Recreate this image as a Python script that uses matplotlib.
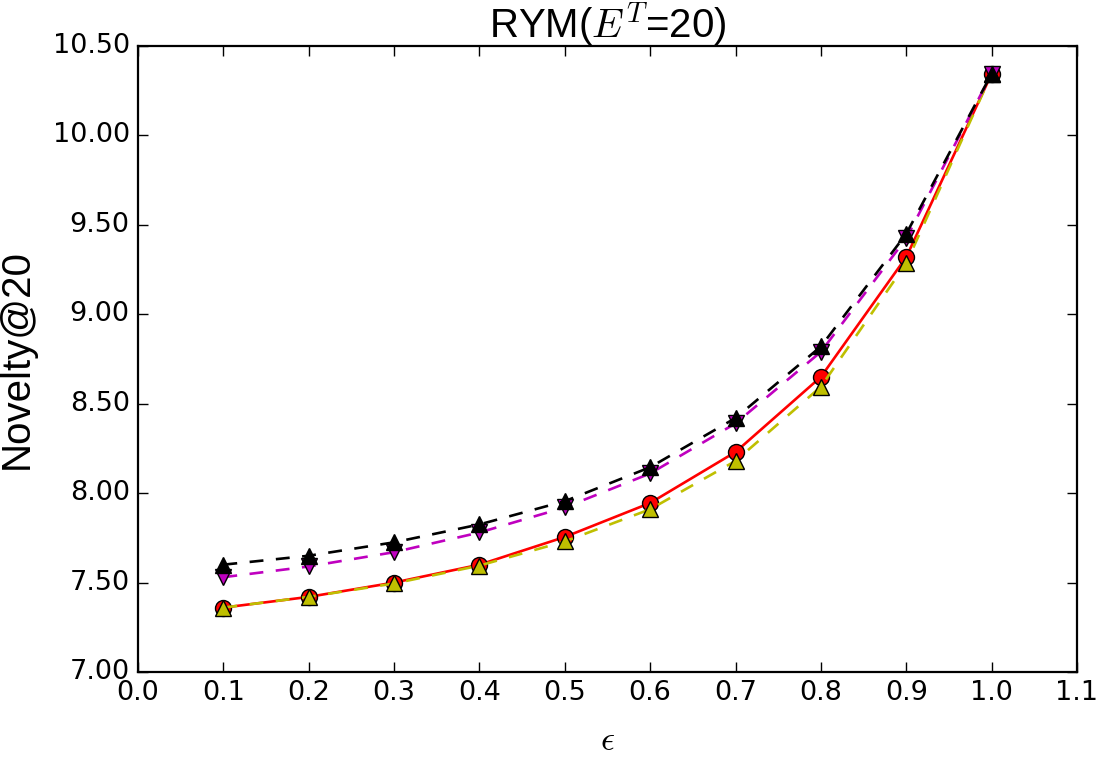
import numpy as np
import matplotlib
matplotlib.use("Agg")
from matplotlib import pyplot as plt
from matplotlib.ticker import FormatStrFormatter

plt.style.use('classic')

#Data-----------------------------------------------------------------------------
eps = [0.1, 0.2, 0.3, 0.4, 0.5, 0.6, 0.7, 0.8, 0.9, 1.0]
novelty_red = [7.36, 7.42, 7.50, 7.60, 7.755, 7.945, 8.23, 8.65, 9.32, 10.345]
novelty_yellow = [7.36, 7.42, 7.495, 7.595, 7.73, 7.91, 8.18, 8.595, 9.285, 10.345]
novelty_magenta = [7.53, 7.59, 7.67, 7.78, 7.92, 8.11, 8.39, 8.79, 9.425, 10.345]
novelty_black = [7.60, 7.65, 7.725, 7.825, 7.955, 8.145, 8.42, 8.82, 9.45, 10.345]

#Figure------------------------------------------------------------------------
fig = plt.figure(figsize=(11.06, 7.6), dpi=100, facecolor='white')
ax = fig.add_axes([138/1106, 1-672/760, (1077-138)/1106, (672-46)/760])
ax.set_facecolor('white')

ms = 11.5
lw = 1.9
ax.plot(eps, novelty_red, color='r', linestyle='-', linewidth=lw,
        marker='o', markersize=ms, markeredgecolor='k', markeredgewidth=1)
ax.plot(eps, novelty_yellow, color='y', linestyle='--', dashes=(10, 9), linewidth=lw,
        marker='^', markersize=ms, markeredgecolor='k', markeredgewidth=1)
ax.plot(eps, novelty_magenta, color='m', linestyle='--', dashes=(10, 9), linewidth=lw,
        marker='v', markersize=ms, markeredgecolor='k', markeredgewidth=1)
ax.plot(eps, novelty_black, color='k', linestyle='--', dashes=(10, 9), linewidth=lw,
        marker='^', markersize=ms, markeredgecolor='k', markeredgewidth=1)

ax.set_xlim(0.0, 1.1)
ax.set_ylim(7.0, 10.5)
ax.set_xticks(np.arange(0, 1.15, 0.1))
ax.set_yticks(np.arange(7.0, 10.55, 0.5))
ax.xaxis.set_major_formatter(FormatStrFormatter('%.1f'))
ax.yaxis.set_major_formatter(FormatStrFormatter('%.2f'))

for s in ax.spines.values():
    s.set_linewidth(1.6)
ax.tick_params(which='major', direction='in', length=7, width=1,
               labelsize=19.5, pad=6, top=True, right=True)
for lab in ax.get_xticklabels() + ax.get_yticklabels():
    lab.set_family('DejaVu Sans')

ax.set_title('RYM($E^T$=20)', fontsize=29, family='Liberation Sans', pad=6)
ax.set_ylabel('Novelty@20', fontsize=29, family='Liberation Sans', labelpad=12)
ax.set_xlabel(r'$\epsilon$', fontsize=25, labelpad=12)

fig.savefig('out.png', dpi=100, facecolor='white')
